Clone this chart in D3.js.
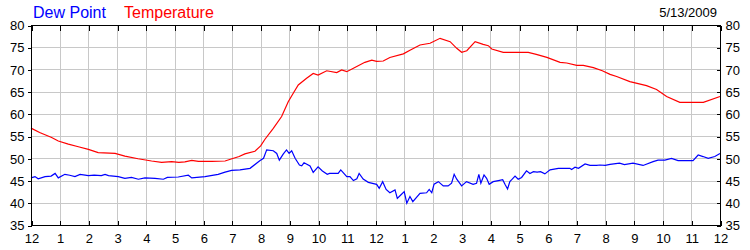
<!DOCTYPE html>
<html>
<head>
<meta charset="utf-8">
<script src="https://cdn.jsdelivr.net/npm/d3@7"></script>
<style>
html,body{margin:0;padding:0;background:#fff;}
svg{display:block;}
text{font-family:Arial,"Liberation Sans",sans-serif;}
</style>
</head>
<body>
<svg id="chart" width="750" height="250"></svg>
<script>
// ---- data ----
const hourTicks = d3.range(0, 25);
const hourLabels = ["12","1","2","3","4","5","6","7","8","9","10","11","12","1","2","3","4","5","6","7","8","9","10","11","12"];
const valueTicks = [35,40,45,50,55,60,65,70,75,80];
const chartDate = "5/13/2009";
const seriesNames = ["Dew Point", "Temperature"];

const tempHours = [0,0.3,0.72,0.95,1.3,1.65,2.0,2.34,2.93,3.27,3.73,4.2,4.55,4.9,5.15,5.36,5.6,5.83,6.3,6.76,7.0,7.25,7.45,7.8,8.0,8.15,8.44,8.73,8.96,9.15,9.31,9.6,9.83,10.0,10.3,10.65,10.82,11.0,11.23,11.63,11.87,12.04,12.27,12.5,12.97,13.2,13.55,13.9,14.25,14.6,14.83,15.0,15.18,15.47,15.75,15.93,16.05,16.45,17.32,17.6,17.97,18.43,18.66,19.01,19.24,19.59,19.9,20.17,20.4,20.86,21.44,21.79,22.14,22.6,23.42,24.0];
const tempValues = [56.8,55.8,54.7,53.9,53.2,52.6,52.0,51.3,51.1,50.5,49.9,49.4,49.1,49.25,49.1,49.2,49.55,49.3,49.3,49.4,49.9,50.4,51.0,51.6,52.8,54.3,56.75,59.4,62.75,64.8,66.5,68.0,69.1,68.75,69.7,69.3,69.9,69.5,70.25,71.6,72.1,71.8,71.9,72.7,73.5,74.3,75.5,75.9,77.0,76.25,74.75,73.85,74.2,76.25,75.65,75.35,74.6,73.85,73.85,73.4,72.7,71.6,71.45,70.9,70.9,70.4,69.7,68.9,68.4,67.25,66.35,65.5,63.9,62.6,62.6,63.9];

const dewHours = [0,0.14,0.25,0.49,0.7,0.84,0.95,1.18,1.35,1.53,1.71,2.0,2.2,2.45,2.58,2.7,3.04,3.27,3.5,3.74,3.97,4.32,4.61,4.75,5.13,5.48,5.6,6.06,6.52,6.76,6.99,7.28,7.63,7.98,8.1,8.21,8.44,8.56,8.65,8.79,8.9,8.99,9.08,9.2,9.35,9.43,9.51,9.72,9.83,10.0,10.15,10.32,10.4,10.7,10.79,11.0,11.11,11.23,11.35,11.43,11.57,11.75,12.04,12.13,12.25,12.37,12.5,12.68,12.76,12.88,13.0,13.09,13.2,13.3,13.55,13.78,13.87,13.96,14.04,14.19,14.36,14.53,14.65,14.74,14.83,15.0,15.17,15.4,15.52,15.6,15.67,15.78,15.87,15.96,16.1,16.28,16.43,16.51,16.6,16.68,16.86,16.97,17.09,17.26,17.38,17.5,17.63,17.75,17.9,18.08,18.37,18.77,18.83,18.95,19.07,19.3,19.47,19.7,19.82,20.0,20.17,20.5,20.67,20.97,21.32,21.67,21.84,22.08,22.31,22.54,23.06,23.24,23.41,23.59,23.82,24.0];
const dewValues = [45.6,45.9,45.4,45.9,46.0,46.6,45.6,46.4,46.2,45.9,46.4,46.1,46.2,46.1,46.4,46.1,45.9,45.5,45.7,45.3,45.6,45.5,45.3,45.7,45.8,46.2,45.6,45.9,46.4,46.9,47.3,47.4,47.75,49.5,50.0,51.9,51.7,51.1,49.6,51.0,51.9,51.1,51.7,50.0,48.5,48.3,49.0,48.3,46.85,48.1,47.15,46.4,46.6,46.6,47.4,45.9,45.9,45.0,45.4,46.6,45.35,44.6,44.15,43.25,44.75,43.0,42.25,42.9,41.0,41.75,42.5,39.9,41.4,40.25,42.1,42.25,43.0,42.25,44.2,44.75,43.8,43.8,44.4,46.4,45.3,43.8,44.75,44.15,44.4,46.4,44.4,46.25,45.5,44.15,44.75,45.0,45.2,44.15,43.1,44.75,46.0,45.3,45.7,47.2,46.6,47.0,46.9,47.0,46.5,47.4,47.75,47.75,47.5,48.0,47.75,48.75,48.4,48.4,48.5,48.4,48.65,48.9,48.6,48.9,48.4,49.25,49.6,49.6,50.0,49.5,49.5,50.75,50.4,50.0,50.4,51.1];

// ---- chart ----
const svg = d3.select("#chart");
const L = 31, R = 720, T = 25, B = 225;
const x = d3.scaleLinear().domain([0, 24]).range([L, R]);
const y = d3.scaleLinear().domain([35, 80]).range([B, T]);
const px = v => Math.round(v) + 0.5;

// grid
const grid = svg.append("g").attr("stroke", "#c8c8c8").attr("stroke-width", 1).attr("shape-rendering", "crispEdges");
grid.selectAll("line.v").data(hourTicks.slice(1, -1)).join("line")
  .attr("x1", d => px(x(d))).attr("x2", d => px(x(d))).attr("y1", T).attr("y2", B);
grid.selectAll("line.h").data(valueTicks.slice(1, -1)).join("line")
  .attr("y1", d => px(y(d))).attr("y2", d => px(y(d))).attr("x1", L).attr("x2", R);

// axes via d3
const fmtHour = (d, i) => hourLabels[hourTicks.indexOf(d)];
const axL = d3.axisLeft(y).tickValues(valueTicks).tickSize(4).tickPadding(3);
const axRt = d3.axisRight(y).tickValues(valueTicks).tickSize(0).tickPadding(5);
const axRtIn = d3.axisLeft(y).tickValues(valueTicks).tickSize(4).tickFormat("");
const axB = d3.axisBottom(x).tickValues(hourTicks).tickFormat(fmtHour).tickSize(0).tickPadding(8);
const axBIn = d3.axisTop(x).tickValues(hourTicks).tickSize(5).tickFormat("");
const axTIn = d3.axisBottom(x).tickValues(hourTicks).tickSize(5).tickFormat("");

function style(g) {
  g.selectAll(".domain").remove();
  g.selectAll("line").attr("stroke", "#000").attr("shape-rendering", "crispEdges");
  g.selectAll("text").attr("fill", "#000").attr("font-size", "13px")
    .attr("font-family", "Arial, 'Liberation Sans', sans-serif");
}
svg.append("g").attr("transform", `translate(${L + 0.5},0.5)`).call(axL).call(style);
svg.append("g").attr("transform", `translate(${R + 0.5},0.5)`).call(axRt).call(style);
svg.append("g").attr("transform", `translate(${R + 0.5},0.5)`).call(axRtIn).call(style);
svg.append("g").attr("transform", `translate(0.5,${B + 0.5})`).call(axB).call(style);
svg.append("g").attr("transform", `translate(0.5,${B + 0.5})`).call(axBIn).call(style);
svg.append("g").attr("transform", `translate(0.5,${T + 0.5})`).call(axTIn).call(style);

// lines
const line = d3.line().x(d => x(d[0])).y(d => y(d[1]));
const tempData = tempHours.map((h, i) => [h, tempValues[i]]);
const dewData = dewHours.map((h, i) => [h, dewValues[i]]);
svg.append("path").datum(tempData).attr("d", line)
  .attr("fill", "none").attr("stroke", "#ff0000").attr("stroke-width", 1.2);
svg.append("path").datum(dewData).attr("d", line)
  .attr("fill", "none").attr("stroke", "#0000ff").attr("stroke-width", 1.2);

// frame
svg.append("rect").attr("x", L + 0.5).attr("y", T + 0.5).attr("width", R - L).attr("height", B - T)
  .attr("fill", "none").attr("stroke", "#000").attr("shape-rendering", "crispEdges");

// legend + date
svg.append("text").attr("x", 33).attr("y", 17.5).attr("font-size", "16px").attr("fill", "#0000ff").text(seriesNames[0]);
svg.append("text").attr("x", 124).attr("y", 17.5).attr("font-size", "16px").attr("fill", "#ff0000").text(seriesNames[1]);
svg.append("text").attr("x", 717).attr("y", 17).attr("font-size", "13px").attr("fill", "#000")
  .attr("text-anchor", "end").text(chartDate);
</script>
</body>
</html>
